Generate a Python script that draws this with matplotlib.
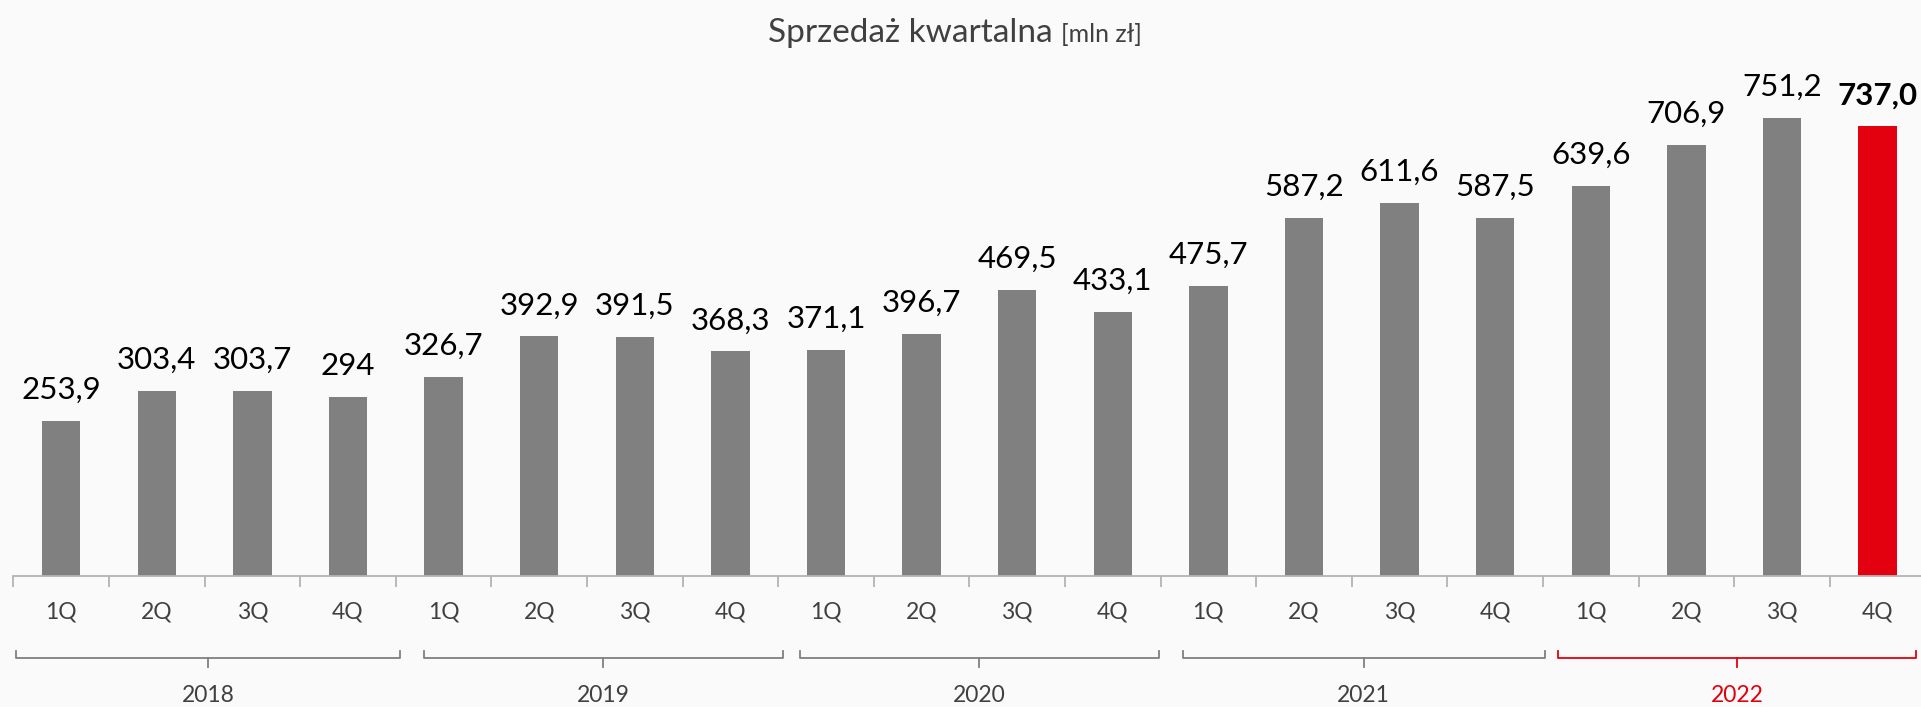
import matplotlib
matplotlib.use("Agg")
import matplotlib.pyplot as plt
from matplotlib.lines import Line2D

plt.rcParams['font.family'] = ['Lato', 'DejaVu Sans']

# ---- data ----
quarters = ['1Q', '2Q', '3Q', '4Q'] * 5
years = ['2018', '2019', '2020', '2021', '2022']
values = [253.9, 303.4, 303.7, 294.0,
          326.7, 392.9, 391.5, 368.3,
          371.1, 396.7, 469.5, 433.1,
          475.7, 587.2, 611.6, 587.5,
          639.6, 706.9, 751.2, 737.0]
value_labels = ['253,9', '303,4', '303,7', '294',
                '326,7', '392,9', '391,5', '368,3',
                '371,1', '396,7', '469,5', '433,1',
                '475,7', '587,2', '611,6', '587,5',
                '639,6', '706,9', '751,2', '737,0']
title_main = 'Sprzedaż kwartalna'
title_unit = '[mln zł]'

# ---- style ----
BG = '#fafafa'
GRAY = '#808080'
RED = '#e3000f'
TXT = '#404040'
AXC = '#b4b4b4'

W, H = 1921, 707
fig = plt.figure(figsize=(W / 100, H / 100), dpi=100, facecolor=BG)

ax_left = 13.4 / W
ax_w = (95.6 * 20) / W
ax_bottom = (H - 576) / H
ax_h = 526 / H
ax = fig.add_axes([ax_left, ax_bottom, ax_w, ax_h], facecolor=BG)

n = len(values)
x = list(range(n))
colors = [GRAY] * (n - 1) + [RED]
bars = ax.bar(x, values, width=0.4, color=colors, zorder=2)

ax.set_xlim(-0.5, n - 0.5)
ax.set_ylim(0, 526 / 0.61)

for s in ['left', 'right', 'top']:
    ax.spines[s].set_visible(False)
ax.spines['bottom'].set_color(AXC)
ax.spines['bottom'].set_linewidth(1.3)
ax.set_yticks([])

# category boundary ticks
ax.set_xticks([i - 0.5 for i in range(n + 1)])
ax.set_xticklabels([])
ax.tick_params(axis='x', length=8, width=1.3, color=AXC, direction='out')

# quarter labels
for i, q in enumerate(quarters):
    ax.annotate(q, xy=(i, 0), xycoords=('data', 'axes fraction'),
                xytext=(0, -36 * 0.72), textcoords='offset points',
                ha='center', va='center', fontsize=16.5, color=TXT,
                annotation_clip=False)

# value labels
for i, (v, lab) in enumerate(zip(values, value_labels)):
    last = (i == n - 1)
    ax.annotate(lab, xy=(i, v), xytext=(0, 22 * 0.72), textcoords='offset points',
                ha='center', va='baseline', fontsize=22.5, color='black',
                fontweight='bold' if last else 'normal', annotation_clip=False)

# year brackets (spans in category units)
spans = [(-0.47, 3.54), (3.79, 7.55), (7.73, 11.48), (11.73, 15.52), (15.66, 19.40)]
trans = ax.get_xaxis_transform()
def ypix(p):
    # convert figure pixel row (from top) to axes fraction
    return ((H - p) / H - ax_bottom) / ax_h

for k, (yr, (a, b)) in enumerate(zip(years, spans)):
    c = RED if k == len(years) - 1 else GRAY
    yl = ypix(658)
    yt = ypix(651)
    yc = ypix(667)
    mid = (a + b) / 2
    ax.add_line(Line2D([a, a, b, b], [yt, yl, yl, yt], transform=trans,
                       color=c, lw=1.3, clip_on=False))
    ax.add_line(Line2D([mid, mid], [yl, yc], transform=trans,
                       color=c, lw=1.3, clip_on=False))
    ax.text(mid, ypix(695), yr, transform=trans, ha='center', va='center',
            fontsize=16.5, color=RED if k == len(years) - 1 else TXT)

# title
ty = 1 - 42 / H
t1 = fig.text(0.5, ty, title_main + ' ', ha='right', va='baseline',
              fontsize=24, color=TXT)
t2 = fig.text(0.5, ty, title_unit, ha='left', va='baseline',
              fontsize=18, color=TXT)
fig.canvas.draw()
r = fig.canvas.get_renderer()
w1 = t1.get_window_extent(r).width
w2 = t2.get_window_extent(r).width
shift = (w1 - w2) / 2 / W - 6 / W
t1.set_x(0.5 + shift)
t2.set_x(0.5 + shift)

fig.savefig('out.png', dpi=100, facecolor=BG)
